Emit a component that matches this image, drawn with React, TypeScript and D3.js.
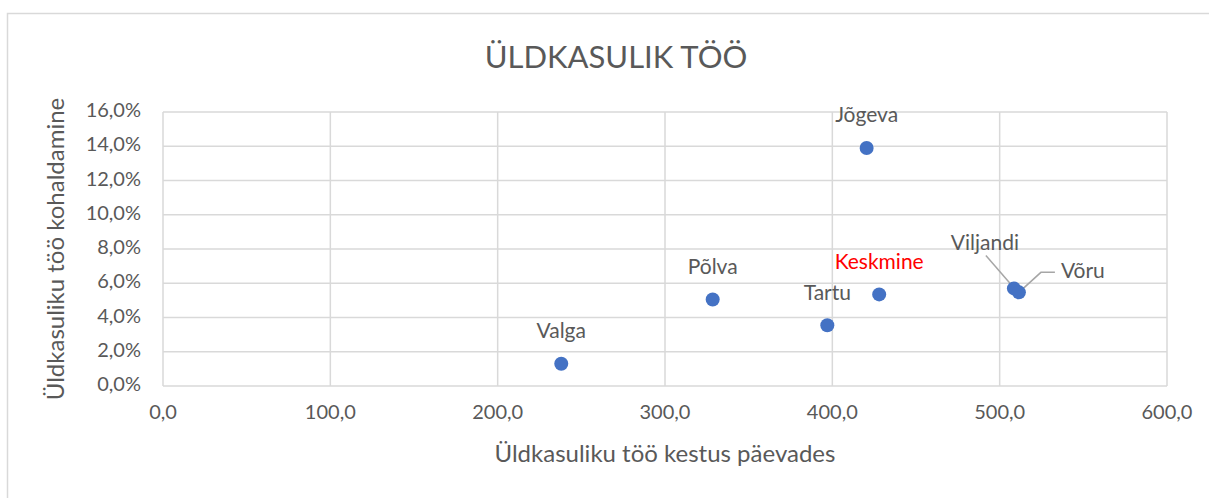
import React from "react";
import * as d3 from "d3";

// counties and their values
const names = ["Valga", "Põlva", "Tartu", "Keskmine", "Jõgeva", "Viljandi", "Võru"];
const durationDays = [238, 328.5, 397, 428, 420.5, 508.5, 511.5];
const applicationShare = [0.013, 0.0505, 0.0355, 0.0535, 0.139, 0.057, 0.0547];
const xTicks = [0, 100, 200, 300, 400, 500, 600];
const yTicks = [0, 0.02, 0.04, 0.06, 0.08, 0.1, 0.12, 0.14, 0.16];

const W = 1209;
const H = 498;
const margin = { top: 112, right: 42, bottom: 112, left: 163 };
const FONT = "Lato, 'Open Sans', sans-serif";
const GRID = "#d9d9d9";
const TEXT = "#595959";

const fmtX = (v: number) => d3.format(".1f")(v).replace(".", ",");
const fmtY = (v: number) => d3.format(".1f")(v * 100).replace(".", ",") + "%";

export default function App() {
  const x = d3.scaleLinear().domain([0, 600]).range([margin.left, W - margin.right]);
  const y = d3.scaleLinear().domain([0, 0.16]).range([H - margin.bottom, margin.top]);

  const pts = names.map((n, i) => ({
    name: n,
    px: x(durationDays[i]),
    py: y(applicationShare[i]),
  }));

  return (
    <svg
      width={W}
      height={H}
      style={{ position: "fixed", left: 0, top: 0, background: "#fff" }}
      fontFamily={FONT}
    >
      <rect x={7.5} y={13.5} width={W} height={H} fill="#fff" stroke={GRID} strokeWidth={1.5} />
      <text x={616} y={60} textAnchor="middle" dominantBaseline="middle" fontSize={31} fill={TEXT}>
        ÜLDKASULIK TÖÖ
      </text>

      {/* grid */}
      {yTicks.map((t) => (
        <line key={"gy" + t} x1={x(0)} x2={x(600)} y1={y(t)} y2={y(t)} stroke={GRID} strokeWidth={1.5} />
      ))}
      {xTicks.map((t) => (
        <line key={"gx" + t} x1={x(t)} x2={x(t)} y1={y(0)} y2={y(0.16)} stroke={GRID} strokeWidth={1.5} />
      ))}

      {/* tick labels */}
      {yTicks.map((t) => (
        <text key={"ly" + t} x={x(0) - 22} y={y(t)} textAnchor="end" dominantBaseline="middle" fontSize={20} fill={TEXT}>
          {fmtY(t)}
        </text>
      ))}
      {xTicks.map((t) => (
        <text key={"lx" + t} x={x(t)} y={y(0) + 28} textAnchor="middle" dominantBaseline="middle" fontSize={20} fill={TEXT}>
          {fmtX(t)}
        </text>
      ))}

      {/* axis titles */}
      <text x={x(300)} y={456} textAnchor="middle" dominantBaseline="middle" fontSize={24} fill={TEXT}>
        Üldkasuliku töö kestus päevades
      </text>
      <text
        transform={`translate(58,${(y(0) + y(0.16)) / 2}) rotate(-90)`}
        textAnchor="middle"
        dominantBaseline="middle"
        fontSize={24}
        fill={TEXT}
      >
        Üldkasuliku töö kohaldamine
      </text>

      {/* leader lines */}
      {pts
        .filter((p) => p.name === "Viljandi")
        .map((p) => (
          <line key="lv" x1={p.px - 28} y1={p.py - 33} x2={p.px - 2} y2={p.py - 3} stroke="#a6a6a6" strokeWidth={1.5} />
        ))}
      {pts
        .filter((p) => p.name === "Võru")
        .map((p) => (
          <polyline
            key="lw"
            points={`${p.px},${p.py} ${p.px + 22},${p.py - 20} ${p.px + 36},${p.py - 20}`}
            fill="none"
            stroke="#a6a6a6"
            strokeWidth={1.5}
          />
        ))}

      {/* points */}
      {pts.map((p) => (
        <circle key={p.name} cx={p.px} cy={p.py} r={7} fill="#4472c4" />
      ))}

      {/* data labels */}
      {pts.map((p) => {
        let lx = p.px;
        let ly = p.py - 31;
        let anchor = "middle";
        if (p.name === "Viljandi") {
          lx = p.px - 29;
          ly = p.py - 44;
        }
        if (p.name === "Võru") {
          lx = p.px + 42;
          ly = p.py - 20;
          anchor = "start";
        }
        return (
          <text
            key={"t" + p.name}
            x={lx}
            y={ly}
            textAnchor={anchor}
            dominantBaseline="middle"
            fontSize={21}
            fill={p.name === "Keskmine" ? "#ff0000" : TEXT}
          >
            {p.name}
          </text>
        );
      })}
    </svg>
  );
}
